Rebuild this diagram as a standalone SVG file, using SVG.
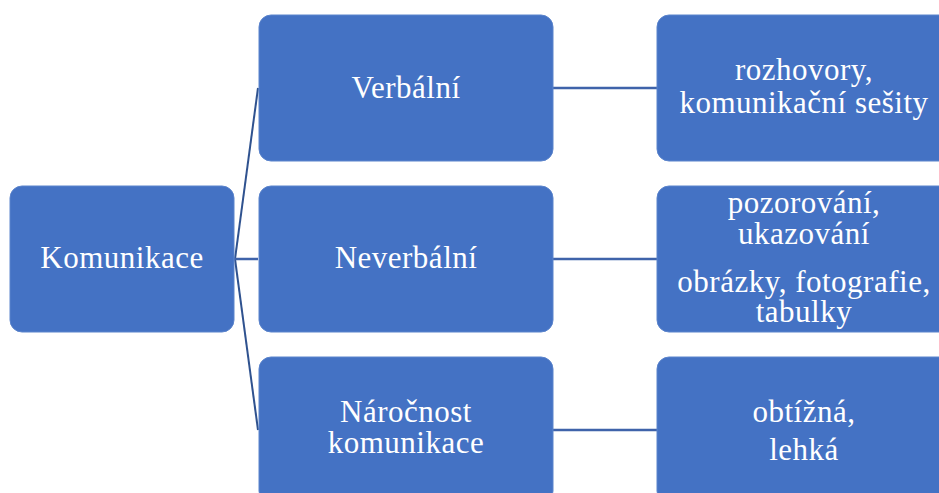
<svg xmlns="http://www.w3.org/2000/svg" width="939" height="493" viewBox="0 0 939 493">
<style>
.box{fill:#4472C4;stroke:#5B84CC;stroke-width:1}
.t{font-family:"Liberation Serif","Times New Roman",serif;font-size:31px;letter-spacing:0.5px;fill:#FFFFFF;text-anchor:middle}
.c{fill:none;stroke:#3F63AA;stroke-width:2.5}
.b{fill:none;stroke:#2F528F;stroke-width:2}
</style>
<rect width="939" height="493" fill="#FFFFFF"/>
<g id="connectors">
<path class="b" d="M235 259 L258 88"/>
<path class="b" d="M235 259 L258 430"/>
<path class="c" d="M234 259 L258 259"/>
<path class="c" d="M553 88 L657 88"/>
<path class="c" d="M553 259 L657 259"/>
<path class="c" d="M553 430 L657 430"/>
</g>
<g id="komunikace">
<rect class="box" x="10" y="186" width="224" height="146" rx="12"/>
<text class="t" x="122" y="268">Komunikace</text>
</g>
<g id="verbalni">
<rect class="box" x="259" y="15" width="294" height="146" rx="12"/>
<text class="t" x="406" y="98">Verbální</text>
</g>
<g id="neverbalni">
<rect class="box" x="259" y="186" width="294" height="146" rx="12"/>
<text class="t" x="406" y="268">Neverbální</text>
</g>
<g id="narocnost">
<rect class="box" x="259" y="357" width="294" height="146" rx="12"/>
<text class="t" x="406" y="422">Náročnost</text>
<text class="t" x="406" y="453">komunikace</text>
</g>
<g id="verbalni-detail">
<rect class="box" x="657" y="15" width="294" height="146" rx="12"/>
<text class="t" x="804" y="80">rozhovory,</text>
<text class="t" x="804" y="113">komunikační sešity</text>
</g>
<g id="neverbalni-detail">
<rect class="box" x="657" y="186" width="294" height="146" rx="12"/>
<text class="t" x="804" y="213">pozorování,</text>
<text class="t" x="804" y="244">ukazování</text>
<text class="t" x="804" y="292">obrázky, fotografie,</text>
<text class="t" x="804" y="322">tabulky</text>
</g>
<g id="narocnost-detail">
<rect class="box" x="657" y="357" width="294" height="146" rx="12"/>
<text class="t" x="804" y="422">obtížná,</text>
<text class="t" x="804" y="460">lehká</text>
</g>
</svg>
